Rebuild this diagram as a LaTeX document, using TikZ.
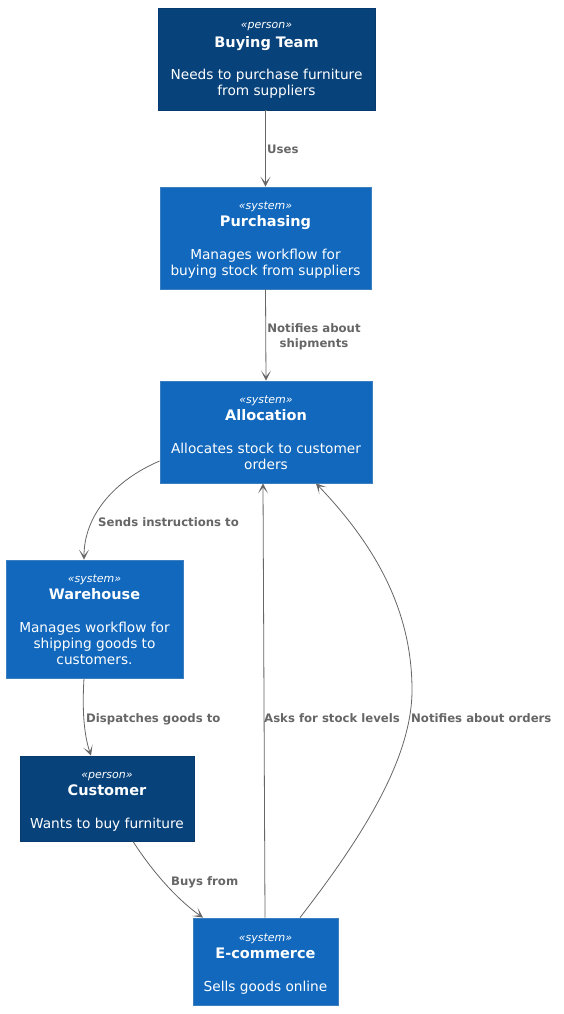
\documentclass[tikz,border=0pt]{standalone}
\usepackage{fontspec}
\setmainfont{DejaVu Sans}
\usetikzlibrary{arrows.meta}
\definecolor{personbg}{HTML}{08427B}
\definecolor{personbd}{HTML}{073B6F}
\definecolor{sysbg}{HTML}{1168BD}
\definecolor{sysbd}{HTML}{3C7FC0}
\definecolor{edgegray}{HTML}{666666}
\tikzset{
  personbox/.style={draw=personbd, fill=personbg, line width=0.8pt, inner sep=0pt},
  sysbox/.style={draw=sysbd, fill=sysbg, line width=0.8pt, inner sep=0pt},
  stereo/.style={text=white, inner sep=0pt, anchor=base, font=\fontsize{11}{13}\selectfont\itshape},
  titletext/.style={text=white, inner sep=0pt, anchor=base, font=\fontsize{14.5}{17}\selectfont\bfseries},
  desctext/.style={text=white, inner sep=0pt, anchor=base, font=\fontsize{13.7}{16}\selectfont},
  rel/.style={draw=edgegray, line width=0.8pt, -{Stealth[length=10pt,width=10pt,inset=6pt]}},
  rellabel/.style={text=edgegray, inner sep=0pt, font=\fontsize{11.7}{15}\selectfont\bfseries}
}
\newcommand{\lines}[1]{\begin{tabular}[t]{@{}c@{}}#1\end{tabular}}
\begin{document}
\begin{tikzpicture}[x={(1pt,0)}, y={(0,-1pt)}]
\useasboundingbox (0,0) rectangle (564,1014);
\fill[white] (0,0) rectangle (564,1014);

% Boxes
\node[personbox, minimum width=217pt, minimum height=102pt] (bt) at (266.5,59) {};
\node[sysbox, minimum width=211pt, minimum height=102pt] (pu) at (265.5,238) {};
\node[sysbox, minimum width=212pt, minimum height=102pt] (al) at (266,432) {};
\node[sysbox, minimum width=177pt, minimum height=118pt] (wh) at (94.5,619) {};
\node[personbox, minimum width=174pt, minimum height=85pt] (cu) at (107,798.5) {};
\node[sysbox, minimum width=145pt, minimum height=87pt] (ec) at (265.5,961.5) {};

% Buying Team text
\node[stereo] (bts) at (266.5,29) {«person»};
\node[titletext] (btt) at (266.5,47.5) {Buying Team};
\node[desctext] (btd) at (266.5,80) {\lines{Needs to purchase furniture\\from suppliers}};

% Purchasing text
\node[stereo] (pus) at (265.5,209) {«system»};
\node[titletext] (put) at (265.5,226.5) {Purchasing};
\node[desctext] (pud) at (265.5,259) {\lines{Manages workflow for\\buying stock from suppliers}};

% Allocation text
\node[stereo] (als) at (266,403) {«system»};
\node[titletext] (alt) at (266,420.5) {Allocation};
\node[desctext] (ald) at (266,453) {\lines{Allocates stock to customer\\orders}};

% Warehouse text
\node[stereo] (whs) at (94.5,582) {«system»};
\node[titletext] (wht) at (94.5,599.5) {Warehouse};
\node[desctext] (whd) at (94.5,632) {\lines{Manages workflow for\\shipping goods to\\customers.}};

% Customer text
\node[stereo] (cus) at (107,778) {«person»};
\node[titletext] (cut) at (107,795.5) {Customer};
\node[desctext] (cud) at (107,828) {Wants to buy furniture};

% E-commerce text
\node[stereo] (ecs) at (265.5,941) {«system»};
\node[titletext] (ect) at (265.5,958.5) {E-commerce};
\node[desctext] (ecd) at (265.5,991) {Sells goods online};

% Connectors
\draw[rel] (bt.south) -- (pu.north |- bt.south) -- (pu.north);
\draw[rel] (pu.south) -- (al.north);
\draw[rel] ([yshift=-29pt]al.west) .. controls (115,480) and (84,515) .. ([xshift=-10.5pt]wh.north);
\draw[rel] ([xshift=-10.5pt]wh.south) .. controls (82,710) and (84,735) .. ([xshift=-16pt]cu.north);
\draw[rel] ([xshift=26pt]cu.south) .. controls (150,868) and (175,898) .. ([xshift=-62.5pt]ec.north);
\draw[rel] ([xshift=-0.5pt]ec.north) -- ([xshift=-3pt]al.south);
\draw[rel] ([xshift=34.5pt]ec.north) .. controls (360,840) and (412,760) .. (412,690)
  .. controls (412,610) and (375,545) .. ([xshift=50pt]al.south);

% Connector labels
\node[rellabel, anchor=base west] (l1) at (267,153.5) {Uses};
\node[rellabel, anchor=base] (l2) at (314,332.5) {\begin{tabular}[t]{@{}c@{}}Notifies about\\shipments\end{tabular}};
\node[rellabel, anchor=base west] (l3) at (98,526.5) {Sends instructions to};
\node[rellabel, anchor=base west] (l4) at (86,722.5) {Dispatches goods to};
\node[rellabel, anchor=base west] (l5) at (171,885.5) {Buys from};
\node[rellabel, anchor=base west] (l6) at (264,722.5) {Asks for stock levels};
\node[rellabel, anchor=base west] (l7) at (411,722.5) {Notifies about orders};
\end{tikzpicture}
\end{document}
